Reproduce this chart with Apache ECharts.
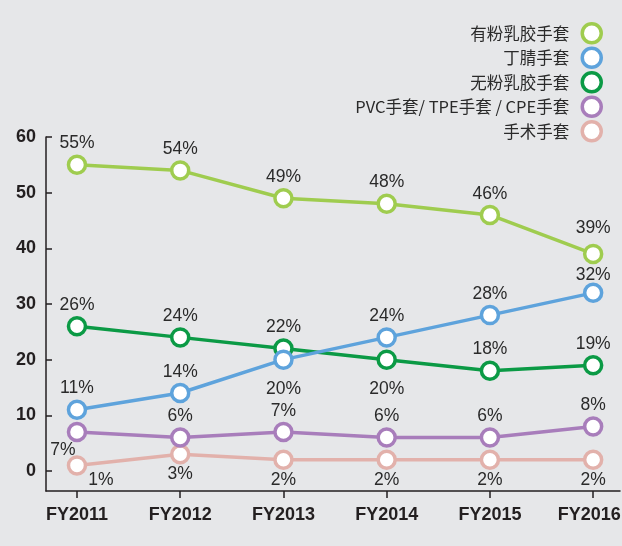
<!DOCTYPE html>
<html>
<head>
<meta charset="utf-8">
<script src="https://cdn.jsdelivr.net/npm/echarts@6/dist/echarts.min.js"></script>
<style>
  html, body { margin: 0; padding: 0; background: #e6e7e9; }
  #chart { width: 622px; height: 546px; }
</style>
</head>
<body>
<div id="chart"></div>
<script>
// 数据
const years = ['FY2011', 'FY2012', 'FY2013', 'FY2014', 'FY2015', 'FY2016'];
const yTicks = [0, 10, 20, 30, 40, 50, 60];
const powderedLatex = [55, 54, 49, 48, 46, 39];
const nitrile = [11, 14, 20, 24, 28, 32];
const powderFreeLatex = [26, 24, 22, 20, 18, 19];
const pvcTpeCpe = [7, 6, 7, 6, 6, 8];
const surgical = [1, 3, 2, 2, 2, 2];

const names = ['有粉乳胶手套', '丁腈手套', '无粉乳胶手套', 'PVC手套/ TPE手套 / CPE手套', '手术手套'];
const colors = ['#9fcc4f', '#5ea3dc', '#0b9a45', '#a87dbb', '#e2b1ab'];

const labelFont = { fontFamily: 'Liberation Sans', fontSize: 17.5, color: '#2a2a2a' };

function toPoints(arr, special) {
  return arr.map((v, i) => {
    const p = { value: [i, v] };
    if (special && special[i]) p.label = special[i];
    return p;
  });
}

function makeSeries(idx, arr, special) {
  return {
    name: names[idx],
    type: 'line',
    data: toPoints(arr, special),
    symbol: 'circle',
    symbolSize: 17,
    lineStyle: { color: colors[idx], width: 3.5 },
    itemStyle: { color: '#ffffff', borderColor: colors[idx], borderWidth: 3.5 },
    label: {
      show: true,
      position: 'top',
      distance: 2,
      formatter: p => p.value[1] + '%',
      ...labelFont
    },
    emphasis: { disabled: true },
    z: 10 - idx
  };
}

const below = { position: 'bottom', distance: 1 };
const xLabelStyle = { fontFamily: 'Liberation Sans', fontWeight: 'bold', fontSize: 18, color: '#231f20' };

try {
  const chart = echarts.init(document.getElementById('chart'));

  const option = {
    backgroundColor: '#e6e7e9',
    animation: false,
    legend: {
      orient: 'vertical',
      right: 14,
      top: 17,
      align: 'right',
      itemWidth: 19,
      itemHeight: 19,
      itemGap: 2,
      icon: 'circle',
      textStyle: {
        fontFamily: 'Noto Sans CJK SC',
        fontSize: 16.5,
        color: '#2a2a2a',
        padding: [0, 8, 0, 0]
      },
      data: names.map((n, i) => ({
        name: n,
        itemStyle: { color: '#ffffff', borderColor: colors[i], borderWidth: 3.5 }
      }))
    },
    grid: { left: 46, right: 2, top: 137, bottom: 55, outerBoundsMode: 'none' },
    xAxis: {
      type: 'value',
      min: -0.3,
      max: 5.26,
      splitLine: { show: false },
      axisLine: { show: true, onZero: false, lineStyle: { color: '#231f20', width: 1.5 } },
      axisTick: { show: true, length: 7, customValues: [0, 1, 2, 3, 4, 5], lineStyle: { color: '#231f20', width: 1.5 } },
      axisLabel: {
        customValues: [0, 1, 2, 3, 4, 5],
        formatter: v => {
          const i = Math.round(v);
          return i === years.length - 1 ? '{last|' + years[i] + '}' : years[i];
        },
        margin: 15,
        ...xLabelStyle,
        rich: {
          last: { ...xLabelStyle, padding: [0, 8, 0, 0] }
        }
      }
    },
    yAxis: {
      type: 'value',
      min: -3.6,
      max: 60,
      splitLine: { show: false },
      axisLine: { show: true, onZero: false, lineStyle: { color: '#231f20', width: 1.5 } },
      axisTick: { show: true, inside: true, length: 6, customValues: yTicks, lineStyle: { color: '#231f20', width: 1.5 } },
      axisLabel: {
        customValues: yTicks,
        margin: 10,
        fontFamily: 'Liberation Sans',
        fontWeight: 'bold',
        fontSize: 18,
        color: '#231f20'
      }
    },
    series: [
      makeSeries(0, powderedLatex, { 5: { distance: 6 } }),
      makeSeries(1, nitrile, { 2: { position: 'bottom', distance: 10 }, 5: { distance: -2 } }),
      makeSeries(2, powderFreeLatex, { 3: { position: 'bottom', distance: 10 } }),
      makeSeries(3, pvcTpeCpe, { 0: { position: 'bottom', distance: 1, offset: [-14, -2] } }),
      makeSeries(4, surgical, { 0: { ...below, offset: [24, -5] }, 1: below, 2: below, 3: below, 4: below, 5: below })
    ]
  };

  chart.setOption(option);
} catch (error) {
  console.error('Error rendering chart:', error);
}
</script>
</body>
</html>
